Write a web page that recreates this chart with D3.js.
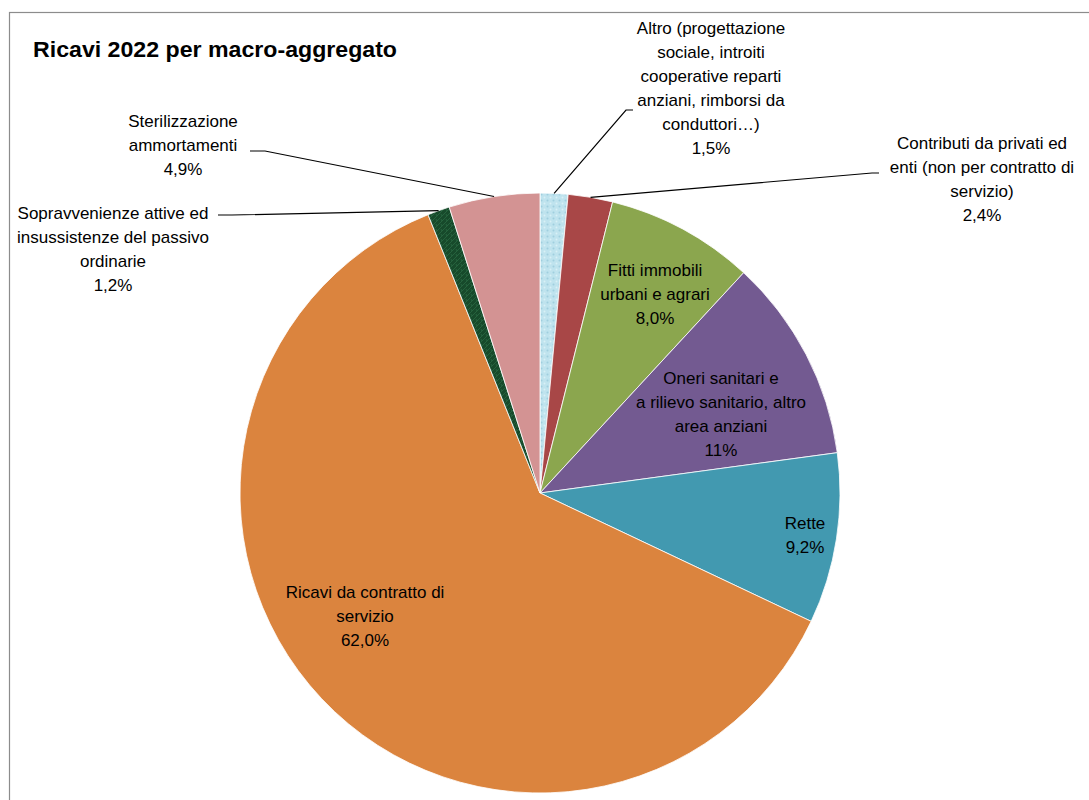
<!DOCTYPE html>
<html>
<head>
<meta charset="utf-8">
<script src="https://cdn.jsdelivr.net/npm/d3@7"></script>
<style>
  body { margin: 0; background: #fff; }
  svg { display: block; font-family: "Liberation Sans", Arial, sans-serif; }
</style>
</head>
<body>
<div class="graph"></div>
<script>
// slices, clockwise from 12 o'clock
const categories = [
  "Altro (progettazione sociale, introiti cooperative reparti anziani, rimborsi da conduttori...)",
  "Contributi da privati ed enti (non per contratto di servizio)",
  "Fitti immobili urbani e agrari",
  "Oneri sanitari e a rilievo sanitario, altro area anziani",
  "Rette",
  "Ricavi da contratto di servizio",
  "Sopravvenienze attive ed insussistenze del passivo ordinarie",
  "Sterilizzazione ammortamenti"
]
const values = [1.5, 2.4, 8.0, 11, 9.2, 62.0, 1.2, 4.9]
const valueLabels = ["1,5%", "2,4%", "8,0%", "11%", "9,2%", "62,0%", "1,2%", "4,9%"]
const labelLines = [
  ["Altro (progettazione", "sociale, introiti", "cooperative reparti", "anziani, rimborsi da", "conduttori\u2026)"],
  ["Contributi da privati ed", "enti (non per contratto di", "servizio)"],
  ["Fitti immobili", "urbani e agrari"],
  ["Oneri sanitari e", "a rilievo sanitario, altro", "area anziani"],
  ["Rette"],
  ["Ricavi da contratto di", "servizio"],
  ["Sopravvenienze attive ed", "insussistenze del passivo", "ordinarie"],
  ["Sterilizzazione", "ammortamenti"]
]
const colors = ["url(#dots)", "#a84747", "#8ba64e", "#735a91", "#4299b0", "#db843e", "url(#greenTex)", "#d39393"]

// label layout: text centre x, first baseline y, optional leader elbow
const labelPos = [
  {x: 711, y: 34, elbow: [626, 110], end: [633, 110]},
  {x: 982, y: 149, elbow: [872, 173], end: [879, 173]},
  {x: 655, y: 276},
  {x: 721, y: 384},
  {x: 805, y: 529},
  {x: 365, y: 598},
  {x: 113, y: 219, elbow: [232, 215], end: [218, 215]},
  {x: 183, y: 127, elbow: [265, 151], end: [250, 151]}
]

const W = 1089, H = 800
const cx = 540, cy = 493, R = 300
const lineH = 24

const svg = d3.select(".graph").append("svg").attr("width", W).attr("height", H)

const defs = svg.append("defs")
const dots = defs.append("pattern").attr("id", "dots").attr("patternUnits", "userSpaceOnUse")
  .attr("width", 6).attr("height", 6)
dots.append("rect").attr("width", 6).attr("height", 6).attr("fill", "#bfe3ee")
dots.append("circle").attr("cx", 1.5).attr("cy", 1.5).attr("r", 1).attr("fill", "#9fcfdf")
dots.append("circle").attr("cx", 4.5).attr("cy", 4.5).attr("r", 1).attr("fill", "#d9f0f6")
const tex = defs.append("pattern").attr("id", "greenTex").attr("patternUnits", "userSpaceOnUse")
  .attr("width", 5).attr("height", 5)
tex.append("rect").attr("width", 5).attr("height", 5).attr("fill", "#174a2b")
tex.append("path").attr("d", "M0,5 L5,0 M1,1 L2,3").attr("stroke", "#2a6a42").attr("stroke-width", 0.8)

// chart border
svg.append("rect").attr("x", 9.5).attr("y", 12.5).attr("width", W + 20).attr("height", H + 20)
  .attr("fill", "none").attr("stroke", "#8c8c8c").attr("stroke-width", 1.2)

svg.append("text").attr("x", 33).attr("y", 57)
  .attr("font-size", 22).attr("font-weight", "bold").attr("fill", "#000")
  .attr("textLength", 364).attr("lengthAdjust", "spacingAndGlyphs")
  .text("Ricavi 2022 per macro-aggregato")

const pie = d3.pie().sort(null).value(d => d)
const arcs = pie(values)
const arc = d3.arc().innerRadius(0).outerRadius(R)
const edge = d3.arc().innerRadius(R).outerRadius(R)

const g = svg.append("g").attr("transform", "translate(" + cx + "," + cy + ")")
g.selectAll("path.slice").data(arcs).enter().append("path")
  .attr("class", "slice")
  .attr("d", arc)
  .attr("fill", (d, i) => colors[i])
  .attr("stroke", "#fff")
  .attr("stroke-width", 0.8)

// leader lines
arcs.forEach((d, i) => {
  const p = labelPos[i]
  if (!p.elbow) return
  const c = edge.centroid(d)
  const start = [cx + c[0], cy + c[1]]
  svg.append("polyline")
    .attr("points", [start, p.elbow, p.end].map(q => q.join(",")).join(" "))
    .attr("fill", "none").attr("stroke", "#000").attr("stroke-width", 1.2)
})

// labels
labelLines.forEach((lines, i) => {
  const p = labelPos[i]
  const t = svg.append("text").attr("text-anchor", "middle").attr("font-size", 17).attr("fill", "#000")
  lines.concat([valueLabels[i]]).forEach((s, k) => {
    t.append("tspan").attr("x", p.x).attr("y", p.y + k * lineH).text(s)
  })
})
</script>
</body>
</html>
